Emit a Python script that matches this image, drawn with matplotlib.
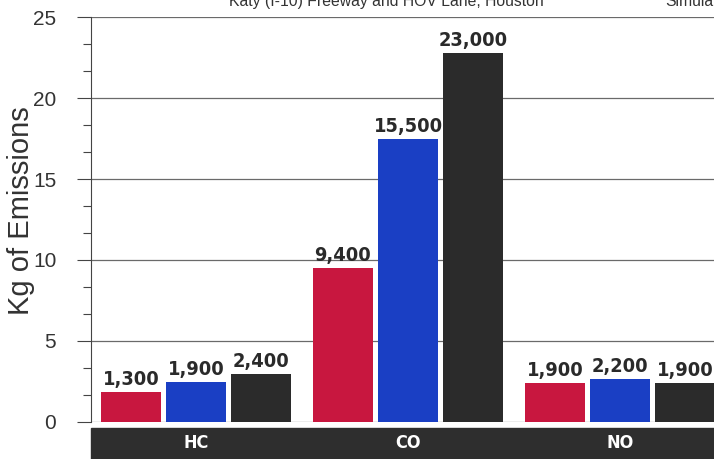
import matplotlib
matplotlib.use('Agg')
import matplotlib.pyplot as plt
from matplotlib import font_manager
from matplotlib.patches import Rectangle
from matplotlib.ticker import MultipleLocator
import numpy as np

# data
categories = ['HC', 'CO', 'NO']
red_vals = [1.85, 9.5, 2.37]
blue_vals = [2.43, 17.45, 2.62]
black_vals = [2.94, 22.8, 2.37]
red_labels = ['1,300', '9,400', '1,900']
blue_labels = ['1,900', '15,500', '2,200']
black_labels = ['2,400', '23,000', '1,900']
title_left = 'Katy (I-10) Freeway and HOV Lane, Houston'
title_right = 'Simulated'

plt.rcParams['font.family'] = ['Liberation Sans', 'DejaVu Sans']

# look for a condensed bold face for the value labels
narrow_file = None
for f in font_manager.fontManager.ttflist:
    nm = f.name + ' ' + str(f.stretch) + ' ' + f.fname
    if ('Narrow' in nm or 'Condensed' in nm or 'condensed' in nm) and \
            f.weight in ('bold', 700, 'Bold') and f.style == 'normal':
        narrow_file = f.fname
        break
if narrow_file:
    lab_font = dict(fontproperties=font_manager.FontProperties(fname=narrow_file, size=14.3))
    cat_font = dict(fontproperties=font_manager.FontProperties(fname=narrow_file, size=13))
else:
    lab_font = dict(fontsize=15, fontweight='bold')
    cat_font = dict(fontsize=12.5, fontweight='bold')

fig = plt.figure(figsize=(7.14, 4.59), dpi=100)
ax = fig.add_axes([91 / 714, 37.3 / 459, 1 - 91 / 714, 404.4 / 459])

x = np.arange(len(categories))
w = 0.283
off = 0.307
series = [(red_vals, red_labels, '#c8173f', -off),
          (blue_vals, blue_labels, '#1a3fc4', 0),
          (black_vals, black_labels, '#2b2b2b', off)]
for vals, labs, col, dx in series:
    bars = ax.bar(x + dx, vals, w, color=col, zorder=3)
    for b, lab in zip(bars, labs):
        ax.text(b.get_x() + b.get_width() / 2, b.get_height() + 0.2, lab,
                ha='center', va='bottom', color='#2a2a2a', zorder=4, **lab_font)

ax.set_xlim(-0.495, 2.443)
ax.set_ylim(0, 25)
ax.yaxis.set_major_locator(MultipleLocator(5))
ax.yaxis.set_minor_locator(MultipleLocator(5 / 3))
ax.tick_params(axis='y', which='major', length=10, width=0.8, color='#444444',
               labelsize=15, labelcolor='#333333', pad=15)
ax.tick_params(axis='y', which='minor', length=6, width=0.8, color='#444444')
ax.set_xticks([])
ax.grid(axis='y', color='#6a6a6a', linewidth=0.9, zorder=0)
for s in ['top', 'right', 'bottom']:
    ax.spines[s].set_visible(False)
ax.spines['left'].set_color('#444444')
ax.spines['left'].set_linewidth(0.8)
ax.set_ylabel('Kg of Emissions', fontsize=21, color='#333333')
ax.yaxis.set_label_coords(-0.09, 0.523)

# dark category band under the axis
fig.patches.append(Rectangle((91 / 714, 0), 1 - 91 / 714, 31 / 459,
                             transform=fig.transFigure, color='#2e2e2e', zorder=1))
band_y = 15.5 / 459
for i, c in enumerate(categories):
    xf = ax.transData.transform((x[i], 0))[0] / fig.bbox.width
    fig.text(xf, band_y, c, ha='center', va='center', color='white', **cat_font)

# title cut off at the top edge
fig.text(229 / 714, 1 - 6 / 459, title_left, ha='left', va='baseline',
         fontsize=11.3, color='#333333')
fig.text(665 / 714, 1 - 6 / 459, title_right, ha='left', va='baseline',
         fontsize=11.3, color='#333333')

fig.savefig('out.png', dpi=100)
